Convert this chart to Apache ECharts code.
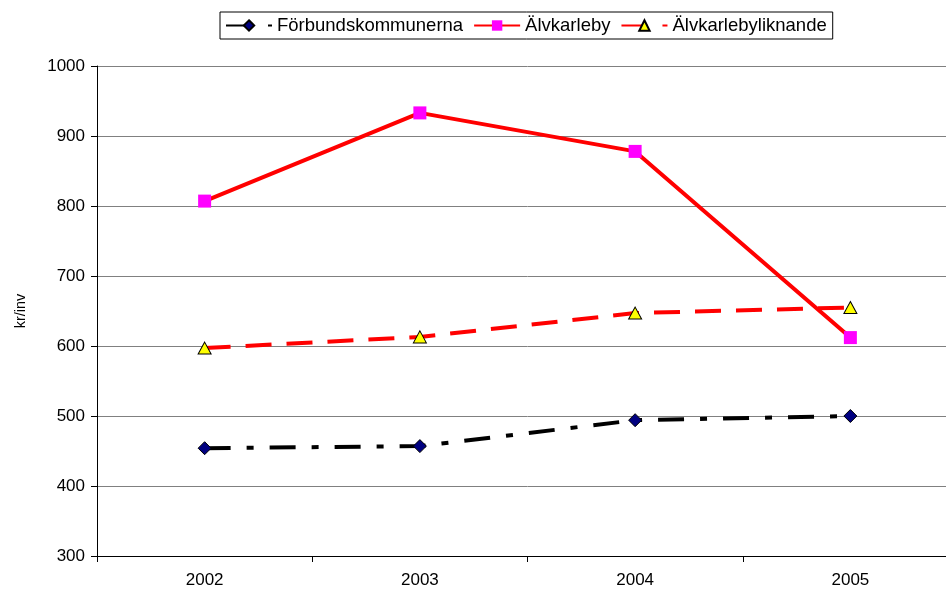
<!DOCTYPE html>
<html>
<head>
<meta charset="utf-8">
<script src="https://cdn.jsdelivr.net/npm/echarts@6/dist/echarts.min.js"></script>
<style>
  html, body { margin: 0; padding: 0; background: #fff; overflow: hidden; }
  /* The plot runs slightly past the right edge of the window */
  #chart { width: 958px; height: 590px; }
</style>
</head>
<body>
<div id="chart"></div>
<script>
// Years on the category axis
const years = ['2002', '2003', '2004', '2005'];

// Cost per inhabitant (kr/inv)
const forbundskommunerna = [454, 457, 494, 500];
const alvkarleby = [807, 933, 878, 612];
const alvkarlebyliknande = [597, 613, 647, 655];

const seriesNames = ['Förbundskommunerna', 'Älvkarleby', 'Älvkarlebyliknande'];

const FONT = 'Liberation Sans, Arial, sans-serif';

const chart = echarts.init(document.getElementById('chart'), null, { renderer: 'canvas' });

chart.setOption({
  animation: false,
  backgroundColor: '#ffffff',
  grid: { left: 97, right: 0, top: 66, bottom: 34, containLabel: false },
  legend: {
    data: seriesNames,
    left: 220,
    top: 12,
    padding: [4, 6, 4, 5],
    borderColor: '#000',
    borderWidth: 1,
    itemGap: 10,
    itemWidth: 46,
    itemHeight: 13,
    textStyle: { fontFamily: FONT, fontSize: 18.5, color: '#000' }
  },
  xAxis: {
    type: 'category',
    data: years,
    boundaryGap: true,
    axisLine: { lineStyle: { color: '#000', width: 1 } },
    axisTick: { show: true, length: 6, lineStyle: { color: '#000' } },
    axisLabel: { fontFamily: FONT, fontSize: 17, color: '#000', margin: 16 },
    splitLine: { show: false }
  },
  yAxis: {
    type: 'value',
    min: 300,
    max: 1000,
    interval: 100,
    name: 'kr/inv',
    nameLocation: 'middle',
    nameRotate: 90,
    nameGap: 69,
    nameTextStyle: { fontFamily: FONT, fontSize: 14.5, color: '#000' },
    axisLine: { show: true, lineStyle: { color: '#000', width: 1 } },
    axisTick: { show: true, length: 6, lineStyle: { color: '#000' } },
    axisLabel: {
      fontFamily: FONT, fontSize: 17, color: '#000', margin: 12,
      formatter: (v) => String(v)
    },
    splitLine: { show: true, lineStyle: { color: '#808080', width: 1 } }
  },
  series: [
    {
      name: seriesNames[0],
      type: 'line',
      data: forbundskommunerna,
      symbol: 'diamond',
      symbolSize: 13,
      lineStyle: { color: '#000', width: 4, type: [26, 16, 7, 16], cap: 'butt' },
      itemStyle: { color: '#000080', borderColor: '#000', borderWidth: 1 },
      z: 3
    },
    {
      name: seriesNames[1],
      type: 'line',
      data: alvkarleby,
      symbol: 'rect',
      symbolSize: 13,
      lineStyle: { color: '#ff0000', width: 4, type: 'solid' },
      itemStyle: { color: '#ff00ff', borderColor: '#ff00ff', borderWidth: 0 },
      z: 4
    },
    {
      name: seriesNames[2],
      type: 'line',
      data: alvkarlebyliknande,
      symbol: 'triangle',
      symbolSize: [13, 12],
      lineStyle: { color: '#ff0000', width: 4, type: [26, 15], cap: 'butt' },
      itemStyle: { color: '#ffff00', borderColor: '#000', borderWidth: 1 },
      z: 5
    }
  ]
});
</script>
</body>
</html>
